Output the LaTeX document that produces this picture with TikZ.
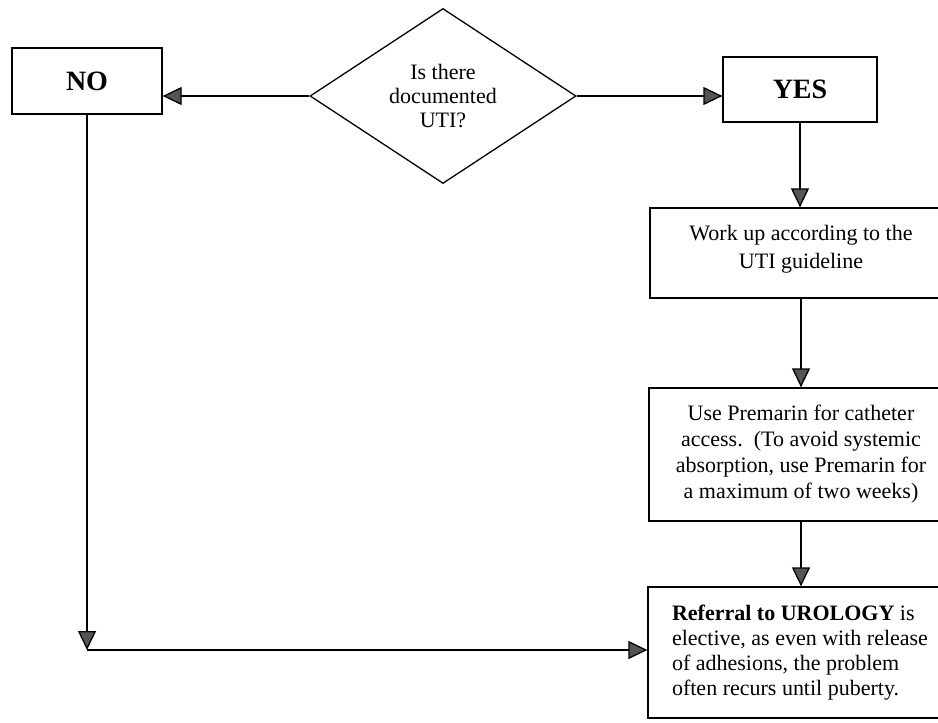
\documentclass[tikz,border=0pt]{standalone}
\usepackage{fontspec}
\setmainfont{Liberation Serif}
\usetikzlibrary{arrows.meta,shapes.geometric}
\definecolor{arrowgray}{HTML}{555555}
\tikzset{
  box/.style={draw, line width=1.3pt, inner sep=0pt, font=\fontsize{22}{26}\selectfont, align=center},
  titlebox/.style={draw, line width=1.3pt, inner sep=0pt, font=\fontsize{28}{32}\selectfont\bfseries},
  decision/.style={draw, diamond, line width=1.3pt, inner sep=0pt, font=\fontsize{22}{24}\selectfont, align=center},
  arr/.style={line width=1.3pt, -{Triangle[length=19pt,width=18pt,fill=arrowgray]}},
}
\begin{document}
\begin{tikzpicture}[x=1pt,y=-1pt]
\useasboundingbox (0,0) rectangle (938,723);
\clip (0,0) rectangle (938,723);
\node[titlebox, minimum width=150, minimum height=66] (no) at (87,81) {NO};
\node[titlebox, minimum width=154, minimum height=65] (yes) at (800,89.5) {YES};
\node[decision, minimum width=266, minimum height=175] (dec) at (443,96) {Is there\\documented\\UTI?};
\node[box, minimum width=302, minimum height=90, font=\fontsize{22}{28}\selectfont] (work) at (801,253) {Work up according to the\\UTI guideline\\[-16pt]};
\node[box, minimum width=304, minimum height=133] (prem) at (801,454.5) {Use Premarin for catheter\\access.\ \ (To avoid systemic\\absorption, use Premarin for\\a maximum of two weeks)};
\node[box, minimum width=304, minimum height=131, align=left, font=\fontsize{22}{25}\selectfont] (ref) at (800,652.5) {\textbf{Referral to UROLOGY} is\\elective, as even with release\\of adhesions, the problem\\often recurs until puberty.};
\coordinate (turn) at (87,650);
\draw[arr] (dec.west) -- (dec.west -| no.east);
\draw[arr] (dec.east) -- (dec.east -| yes.west);
\draw[arr] (yes.south) -- (yes.south |- work.north);
\draw[arr] (work.south) -- (work.south |- prem.north);
\draw[arr] (prem.south) -- (prem.south |- ref.north);
\draw[arr] (no.south) -- (turn);
\draw[arr] (turn) -- (turn -| ref.west);
\end{tikzpicture}
\end{document}
